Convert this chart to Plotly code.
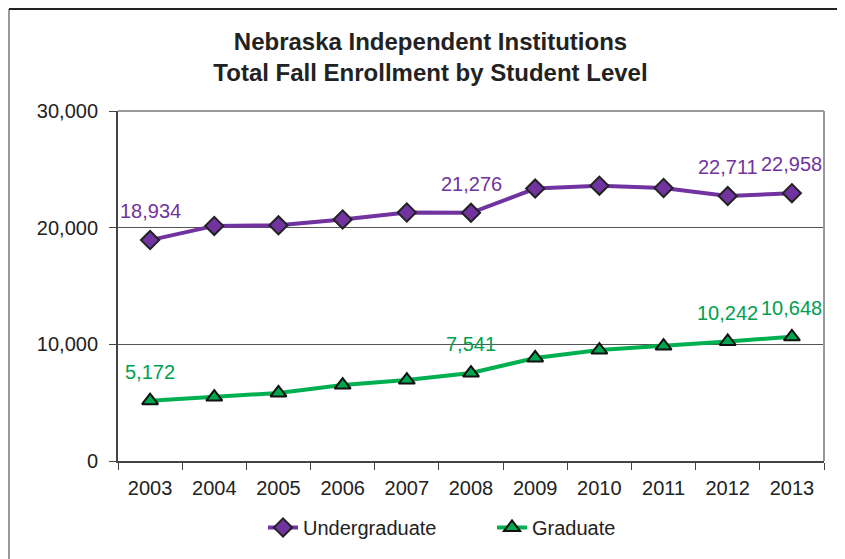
import plotly.graph_objects as go

years = ["2003", "2004", "2005", "2006", "2007", "2008", "2009", "2010", "2011", "2012", "2013"]
undergraduate = [18934, 20150, 20200, 20700, 21300, 21276, 23350, 23600, 23400, 22711, 22958]
graduate = [5172, 5480, 5830, 6510, 6940, 7541, 8830, 9510, 9850, 10242, 10648]
labeled_years = ["2003", "2008", "2012", "2013"]
y_ticks = [0, 10000, 20000, 30000]
y_tick_text = ["0", "10,000", "20,000", "30,000"]

PURPLE = "#7133A0"
GREEN = "#00B050"
FONT = "Liberation Sans, Arial, sans-serif"

fig = go.Figure()
fig.add_trace(go.Scatter(
    x=years, y=undergraduate, name="Undergraduate", mode="lines+markers",
    line=dict(color=PURPLE, width=4),
    marker=dict(symbol="diamond", size=14, color=PURPLE, line=dict(color="#222222", width=2)),
))
fig.add_trace(go.Scatter(
    x=years, y=graduate, name="Graduate", mode="lines+markers",
    line=dict(color=GREEN, width=4),
    marker=dict(symbol="triangle-up", size=14, color="#00A64F", line=dict(color="#111111", width=2)),
))

annotations = []
for series, color in ((undergraduate, PURPLE), (graduate, "#00A050")):
    for i, (yr, v) in enumerate(zip(years, series)):
        if yr in labeled_years:
            annotations.append(dict(
                x=i, y=v, xref="x", yref="y", text=f"{v:,}", showarrow=False, yshift=29,
                font=dict(family=FONT, size=20, color=color),
            ))

fig.update_layout(
    width=845, height=559,
    margin=dict(l=110, r=29, t=103, b=106),
    paper_bgcolor="white", plot_bgcolor="white",
    title=dict(
        text="Nebraska Independent Institutions<br>Total Fall Enrollment by Student Level",
        x=0.5, xref="container", xanchor="center",
        y=0.925, yref="container", yanchor="middle",
        font=dict(family=FONT, size=24, color="#222222", weight="bold"),
    ),
    font=dict(family=FONT, size=20, color="#222222"),
    showlegend=True,
    legend=dict(
        orientation="h", x=0.2054, xanchor="left", y=-0.19, yanchor="middle",
        font=dict(family=FONT, size=20, color="#222222"),
        entrywidth=184, entrywidthmode="pixels", tracegroupgap=0,
    ),
    annotations=annotations,
    shapes=[
        dict(type="line", xref="paper", yref="paper", x0=0, x1=1, y0=1, y1=1,
             line=dict(color="#999999", width=2)),
        dict(type="line", xref="paper", yref="paper", x0=1, x1=1, y0=0, y1=1,
             line=dict(color="#999999", width=2)),
        dict(type="line", xref="paper", yref="paper", x0=-0.1544, x1=-0.1544, y0=-0.35, y1=1.2914,
             line=dict(color="#999999", width=2)),
        dict(type="line", xref="paper", yref="paper", x0=-0.1544, x1=1.1, y0=1.2914, y1=1.2914,
             line=dict(color="#222222", width=2)),
    ],
)

fig.update_xaxes(
    type="category", range=[-0.5, 10.5],
    showline=True, linecolor="#444444", linewidth=2,
    ticks="outside", ticklen=7, tickcolor="#444444", tickwidth=1,
    tickson="boundaries", showgrid=False, ticklabelstandoff=8,
    tickfont=dict(family=FONT, size=20, color="#222222"),
)
fig.update_yaxes(
    range=[0, 30000], tickvals=y_ticks, ticktext=y_tick_text,
    showline=True, linecolor="#444444", linewidth=2,
    ticks="outside", ticklen=7, tickcolor="#444444", tickwidth=1,
    showgrid=True, gridcolor="#555555", gridwidth=1, zeroline=False,
    ticklabelstandoff=7,
    tickfont=dict(family=FONT, size=20, color="#222222"),
)

fig.write_html("out.html")
